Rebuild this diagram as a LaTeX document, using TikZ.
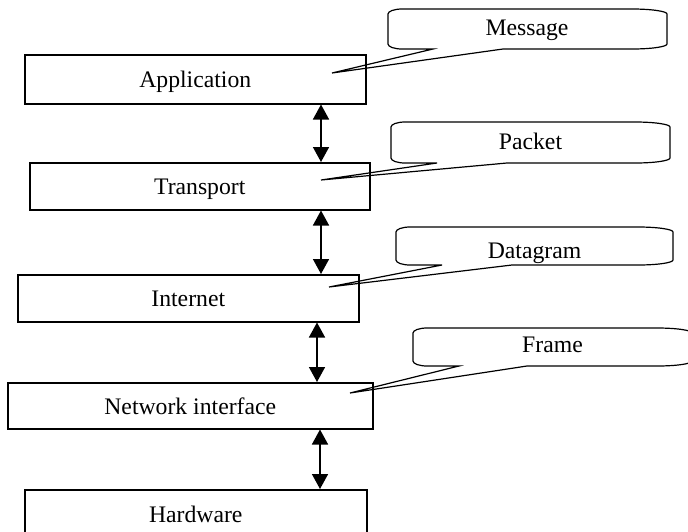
\documentclass[tikz,border=0pt]{standalone}
\usepackage{fontspec}
\setmainfont{Liberation Serif}
\usetikzlibrary{arrows.meta}

% Speech bubble: #1 left, #2 top, #3 right, #4 bottom,
% #5/#6 where the wedge leaves the lower edge, #7 wedge tip
\newcommand{\msgbubble}[7]{%
  \draw[bubble]
    ({#1},{#2+5}) .. controls ({#1},{#2+2.24}) and ({#1+6.27},{#2}) .. ({#1+14},{#2})
    -- ({#3-35},{#2}) .. controls ({#3-15.7},{#2}) and ({#3},{#2+2.24}) .. ({#3},{#2+5})
    -- ({#3},{#4-5}) .. controls ({#3},{#4-2.24}) and ({#3-15.7},{#4}) .. ({#3-35},{#4})
    -- ({#6},{#4}) -- (#7) -- ({#5},{#4})
    -- ({#1+14},{#4}) .. controls ({#1+6.27},{#4}) and ({#1},{#4-2.24}) .. ({#1},{#4-5})
    -- cycle;}

\tikzset{
  layer/.style={draw, line width=1.5pt, inner sep=0pt, anchor=north west,
                text height=17pt, text depth=0pt},
  bubble/.style={draw, line width=1.2pt, line join=miter},
  link/.style={line width=1.6pt, {Triangle[length=15pt,width=16pt]}-{Triangle[length=15pt,width=16pt]}},
  label/.style={anchor=base, inner sep=0pt}
}

\begin{document}
\begin{tikzpicture}[x=1pt, y=-1pt, font=\fontsize{23.7}{28}\selectfont]
  \useasboundingbox (0,0) rectangle (688,531);
  \clip (0,0) rectangle (688,531);

  % protocol layers
  \node[layer, minimum width=341pt, minimum height=49pt] (app)  at (24,54)  {Application};
  \node[layer, minimum width=340pt, minimum height=47pt] (tr)   at (29,162) {Transport};
  \node[layer, minimum width=341pt, minimum height=47pt] (inet) at (17,274) {Internet};
  \node[layer, minimum width=365pt, minimum height=46pt] (nif)  at (7,382)  {Network interface};
  \node[layer, minimum width=342pt, minimum height=49pt] (hw)   at (24,489) {Hardware};

  % vertical positions of the two-way arrows
  \coordinate (a1) at (321,0);
  \coordinate (a2) at (321,0);
  \coordinate (a3) at (317,0);
  \coordinate (a4) at (320,0);

  \draw[link] (app.south -| a1) -- (tr.north -| a1);
  \draw[link] (tr.south -| a2) -- (inet.north -| a2);
  \draw[link] (inet.south -| a3) -- (nif.north -| a3);
  \draw[link] (nif.south -| a4) -- (hw.north -| a4);

  % data unit names, pointing into their layers
  \coordinate (apptip)  at (332,73);
  \coordinate (trtip)   at (321,180);
  \coordinate (inettip) at (329,287);
  \coordinate (niftip)  at (350,393);

  \msgbubble{388}{9}{667}{49}{433}{503}{apptip}
  \msgbubble{391}{122}{670}{163}{437}{507}{trtip}
  \msgbubble{396}{227}{673}{265}{442}{512}{inettip}
  \msgbubble{413}{328}{692}{366}{459}{527}{niftip}

  \node[label] (msg)  at (527,35)   {Message};
  \node[label] (pkt)  at (530.5,149) {Packet};
  \node[label] (dgm)  at (534.5,258) {Datagram};
  \node[label] (frm)  at (552.5,352) {Frame};
\end{tikzpicture}
\end{document}
